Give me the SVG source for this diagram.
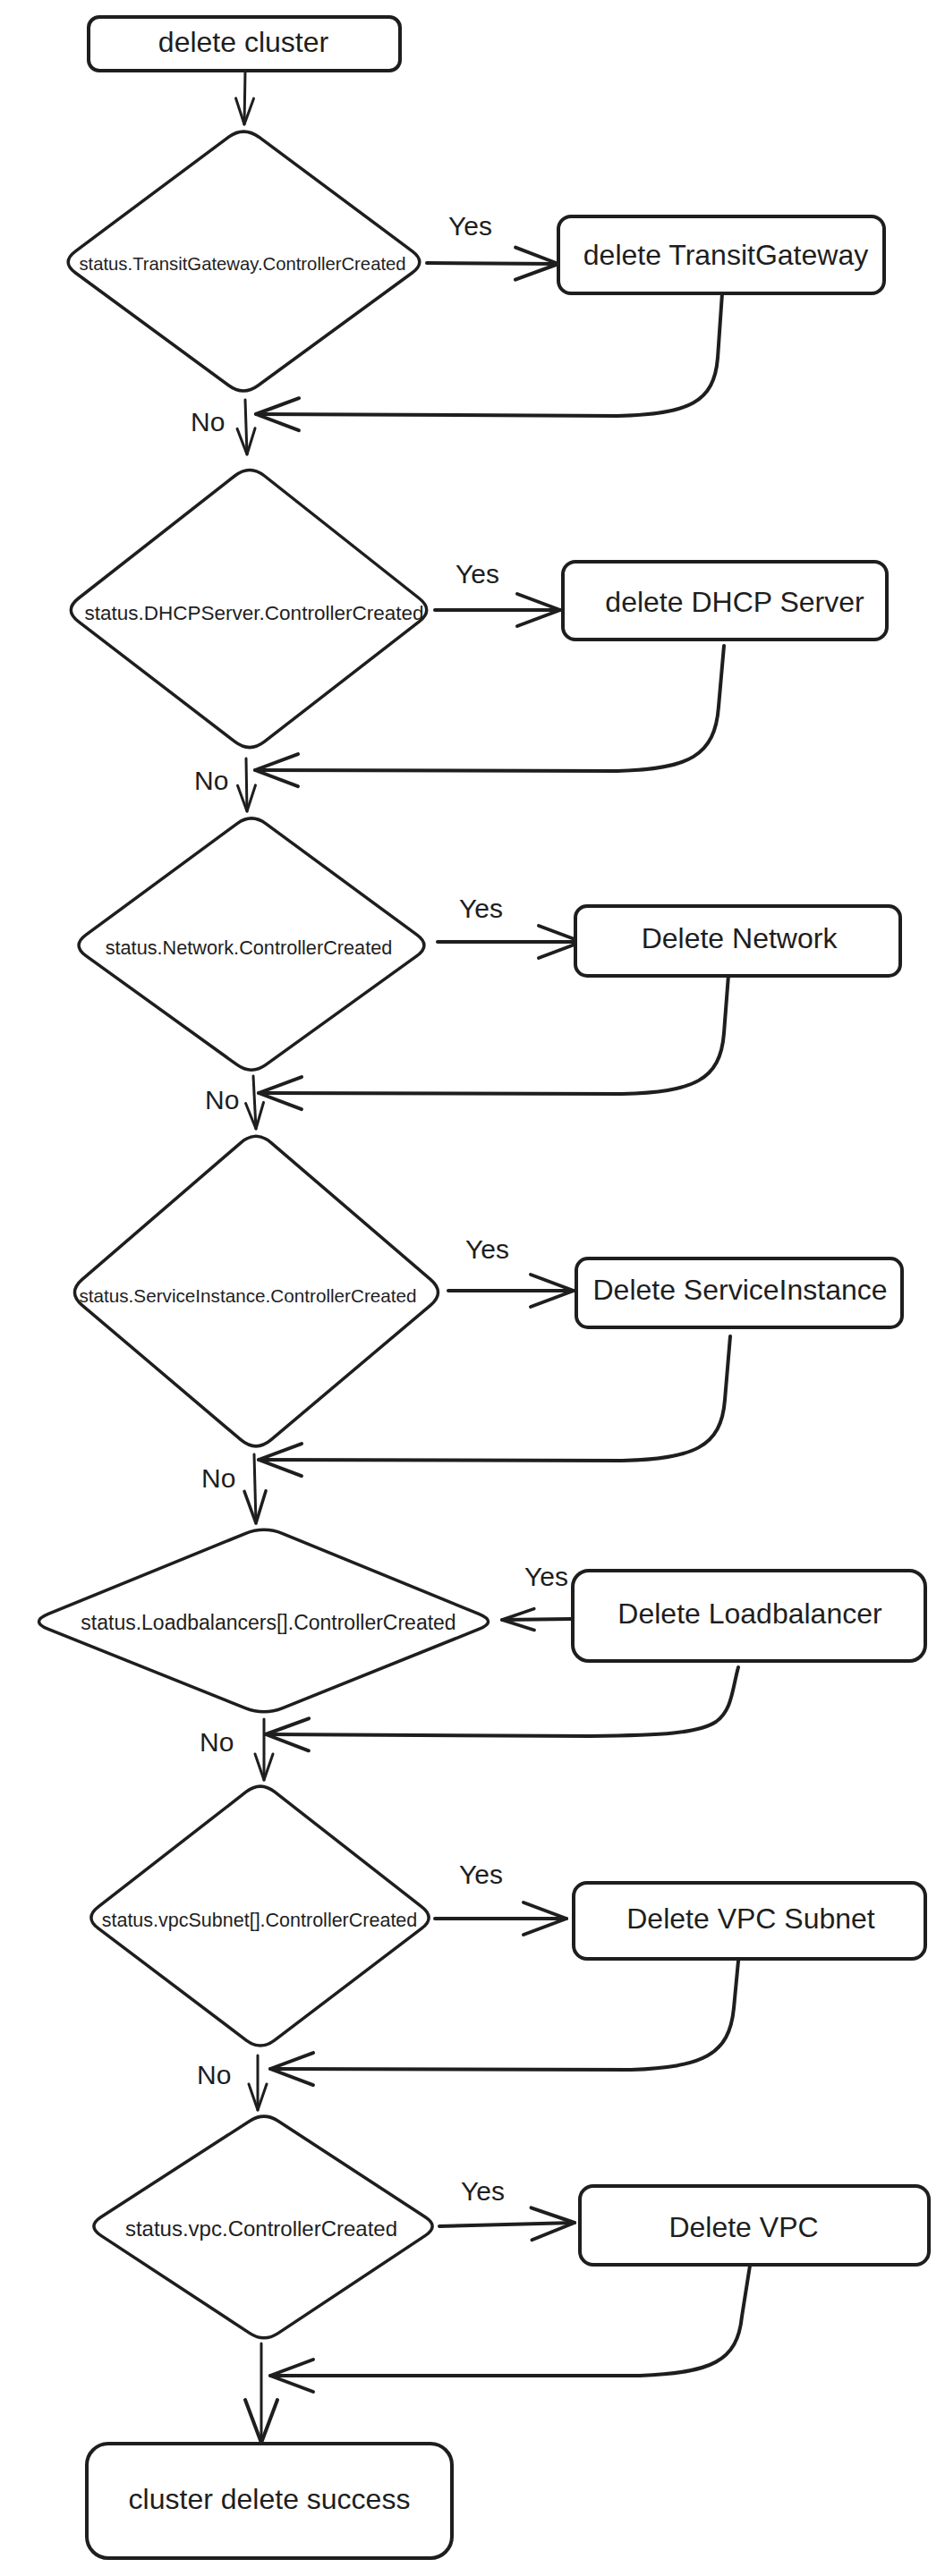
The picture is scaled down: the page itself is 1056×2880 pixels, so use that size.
<svg xmlns="http://www.w3.org/2000/svg" width="1056" height="2880" viewBox="0 0 1056 2880">
<style>
.bg{fill:#ffffff}
.box{fill:#ffffff;stroke:#1e1e1e;stroke-width:4}
.dia{fill:#ffffff;stroke:#1e1e1e;stroke-width:3.5;stroke-linejoin:round}
.ln{fill:none;stroke:#1e1e1e;stroke-width:3;stroke-linecap:round;stroke-linejoin:round}
.lnb{fill:none;stroke:#1e1e1e;stroke-width:4;stroke-linecap:round;stroke-linejoin:round}
.t{font-family:"Liberation Sans",Arial,Helvetica,sans-serif;fill:#1e1e1e}
.lbl{font-size:32px;text-anchor:middle}
.yn{font-size:30px}
</style>
<defs>
<marker id="ahBig" markerUnits="userSpaceOnUse" markerWidth="60" markerHeight="44" refX="50" refY="20" orient="auto" overflow="visible"><path d="M2 2 L50 20 L2 38" fill="none" stroke="#1e1e1e" stroke-width="4" stroke-linecap="round" stroke-linejoin="round"/></marker>
<marker id="ahMid" markerUnits="userSpaceOnUse" markerWidth="44" markerHeight="32" refX="38" refY="14" orient="auto" overflow="visible"><path d="M2 2 L38 14 L2 26" fill="none" stroke="#1e1e1e" stroke-width="3.5" stroke-linecap="round" stroke-linejoin="round"/></marker>
<marker id="ahSmall" markerUnits="userSpaceOnUse" markerWidth="36" markerHeight="28" refX="31" refY="12" orient="auto" overflow="visible"><path d="M2 2 L31 12 L2 22" fill="none" stroke="#1e1e1e" stroke-width="3" stroke-linecap="round" stroke-linejoin="round"/></marker>
</defs>
<rect class="bg" x="0" y="0" width="1056" height="2880"/>

<g id="connectors">
<path id="e-start-d1" class="ln" d="M274 79 L273 139" marker-end="url(#ahSmall)"/>
<path id="e-d1-yes" class="lnb" d="M477 294 L624 295" marker-end="url(#ahBig)"/>
<path id="e-b1-back" class="lnb" d="M807 328 L802 400 C798 450 770 463 690 465 L286 463" marker-end="url(#ahBig)"/>
<path id="e-d1-no" class="ln" d="M274 447 L276 508" marker-end="url(#ahSmall)"/>

<path id="e-d2-yes" class="lnb" d="M486 682 L626 682" marker-end="url(#ahBig)"/>
<path id="e-b2-back" class="lnb" d="M809 722 L803 790 C799 845 770 860 690 862 L285 861" marker-end="url(#ahBig)"/>
<path id="e-d2-no" class="ln" d="M275 848 L276 907" marker-end="url(#ahSmall)"/>

<path id="e-d3-yes" class="lnb" d="M489 1053 L650 1053" marker-end="url(#ahBig)"/>
<path id="e-b3-back" class="lnb" d="M814 1090 L809 1155 C805 1208 775 1221 695 1223 L289 1222" marker-end="url(#ahBig)"/>
<path id="e-d3-no" class="ln" d="M283 1203 L286 1262" marker-end="url(#ahSmall)"/>

<path id="e-d4-yes" class="lnb" d="M501 1443 L641 1443" marker-end="url(#ahBig)"/>
<path id="e-b4-back" class="lnb" d="M816 1494 L810 1565 C806 1618 775 1631 695 1633 L289 1632" marker-end="url(#ahBig)"/>
<path id="e-d4-no" class="ln" d="M284 1626 L286 1703" marker-end="url(#ahMid)"/>

<path id="e-b5-yes" class="lnb" d="M638 1810 L561 1811" marker-end="url(#ahMid)"/>
<path id="e-b5-back" class="lnb" d="M825 1864 C818 1890 818 1912 800 1925 C780 1938 740 1940 660 1941 L297 1939" marker-end="url(#ahBig)"/>
<path id="e-d5-no" class="ln" d="M295 1922 L295 1990" marker-end="url(#ahSmall)"/>

<path id="e-d6-yes" class="lnb" d="M486 2145 L633 2145" marker-end="url(#ahBig)"/>
<path id="e-b6-back" class="lnb" d="M826 2182 L820 2245 C815 2298 785 2311 705 2314 L302 2313" marker-end="url(#ahBig)"/>
<path id="e-d6-no" class="ln" d="M288 2298 L288 2359" marker-end="url(#ahSmall)"/>

<path id="e-d7-yes" class="lnb" d="M491 2489 L642 2485" marker-end="url(#ahBig)"/>
<path id="e-b7-back" class="lnb" d="M838 2533 L829 2590 C824 2640 795 2653 715 2656 L302 2656" marker-end="url(#ahBig)"/>
<path id="e-d7-end" class="ln" d="M292 2620 L292 2731" marker-end="url(#ahBig)"/>
</g>

<g id="edge-labels">
<text class="t yn" x="501" y="263">Yes</text>
<text class="t yn" x="213" y="482">No</text>
<text class="t yn" x="509" y="652">Yes</text>
<text class="t yn" x="217" y="883">No</text>
<text class="t yn" x="513" y="1026">Yes</text>
<text class="t yn" x="229" y="1240">No</text>
<text class="t yn" x="520" y="1407">Yes</text>
<text class="t yn" x="225" y="1663">No</text>
<text class="t yn" x="586" y="1773">Yes</text>
<text class="t yn" x="223" y="1958">No</text>
<text class="t yn" x="513" y="2106">Yes</text>
<text class="t yn" x="220" y="2330">No</text>
<text class="t yn" x="515" y="2460">Yes</text>
</g>

<g id="n-start">
<rect class="box" x="99" y="19" width="348" height="60" rx="12"/>
<text class="t lbl" x="272" y="58">delete cluster</text>
</g>

<g id="d1">
<path class="dia" d="M289.3 153.2 L460.7 280.8 Q477 293 460.6 305 L288.4 431 Q272 443 255.7 431 L84.3 305 Q68 293 84.4 280.8 L255.6 153.2 Q272 141 289.3 153.2 Z"/>
<text class="t" x="271" y="302" font-size="20.3" text-anchor="middle">status.TransitGateway.ControllerCreated</text>
</g>
<g id="b1">
<rect class="box" x="624" y="242" width="364" height="86" rx="14"/>
<text class="t lbl" x="811" y="296">delete TransitGateway</text>
</g>

<g id="d2">
<path class="dia" d="M295.5 532 L468.5 669 Q485 682 468.5 694.8 L295.5 829.2 Q279 842 262.4 829.2 L87.6 694.8 Q71 682 87.6 669 L262.4 532 Q279 519 295.5 532 Z"/>
<text class="t" x="284" y="693" font-size="22.5" text-anchor="middle">status.DHCPServer.ControllerCreated</text>
</g>
<g id="b2">
<rect class="box" x="629" y="628" width="362" height="87" rx="14"/>
<text class="t lbl" x="821" y="684">delete DHCP Server</text>
</g>

<g id="d3">
<path class="dia" d="M297.1 920.8 L465.9 1045.2 Q482 1057 465.9 1068.6 L297.1 1190.4 Q281 1202 264.9 1190.4 L96.1 1068.6 Q80 1057 96.1 1045.2 L264.9 920.8 Q281 909 297.1 920.8 Z"/>
<text class="t" x="278" y="1067" font-size="21.7" text-anchor="middle">status.Network.ControllerCreated</text>
</g>
<g id="b3">
<rect class="box" x="643" y="1013" width="363" height="78" rx="13"/>
<text class="t lbl" x="826" y="1060">Delete Network</text>
</g>

<g id="d4">
<path class="dia" d="M303 1277.6 L481 1430.4 Q498 1445 481 1459.3 L303 1609.7 Q286 1624 269.1 1609.7 L91.9 1459.3 Q75 1445 91.9 1430.4 L269.1 1277.6 Q286 1263 303 1277.6 Z"/>
<text class="t" x="277" y="1456" font-size="20.7" text-anchor="middle">status.ServiceInstance.ControllerCreated</text>
</g>
<g id="b4">
<rect class="box" x="644" y="1407" width="364" height="77" rx="13"/>
<text class="t lbl" x="827" y="1453">Delete ServiceInstance</text>
</g>

<g id="d5">
<path class="dia" d="M315.9 1714.6 L535.1 1804.4 Q556 1813 535.1 1821.4 L315.9 1909.6 Q295 1918 274 1909.6 L54 1821.4 Q33 1813 54 1804.4 L274 1714.6 Q295 1706 315.9 1714.6 Z"/>
<text class="t" x="300" y="1822" font-size="23" text-anchor="middle">status.Loadbalancers[].ControllerCreated</text>
</g>
<g id="b5">
<rect class="box" x="640" y="1756" width="394" height="101" rx="18"/>
<text class="t lbl" x="838" y="1815">Delete Loadbalancer</text>
</g>

<g id="d6">
<path class="dia" d="M306.7 2003.2 L471.3 2131.8 Q487 2144 471.3 2155.9 L306.7 2281.1 Q291 2293 275.2 2281.1 L109.8 2155.9 Q94 2144 109.8 2131.8 L275.2 2003.2 Q291 1991 306.7 2003.2 Z"/>
<text class="t" x="290" y="2154" font-size="21.5" text-anchor="middle">status.vpcSubnet[].ControllerCreated</text>
</g>
<g id="b6">
<rect class="box" x="641" y="2105" width="393" height="85" rx="15"/>
<text class="t lbl" x="839" y="2156">Delete VPC Subnet</text>
</g>

<g id="d7">
<path class="dia" d="M310.7 2371.2 L475.3 2478.8 Q491 2489 475.3 2499.4 L310.7 2608.6 Q295 2619 279.2 2608.6 L112.8 2499.4 Q97 2489 112.8 2478.8 L279.2 2371.2 Q295 2361 310.7 2371.2 Z"/>
<text class="t" x="292" y="2500" font-size="24" text-anchor="middle">status.vpc.ControllerCreated</text>
</g>
<g id="b7">
<rect class="box" x="648" y="2444" width="390" height="88" rx="15"/>
<text class="t lbl" x="831" y="2501">Delete VPC</text>
</g>

<g id="n-end">
<rect class="box" x="97" y="2732" width="408" height="128" rx="24"/>
<text class="t lbl" x="301" y="2805">cluster delete success</text>
</g>
</svg>
